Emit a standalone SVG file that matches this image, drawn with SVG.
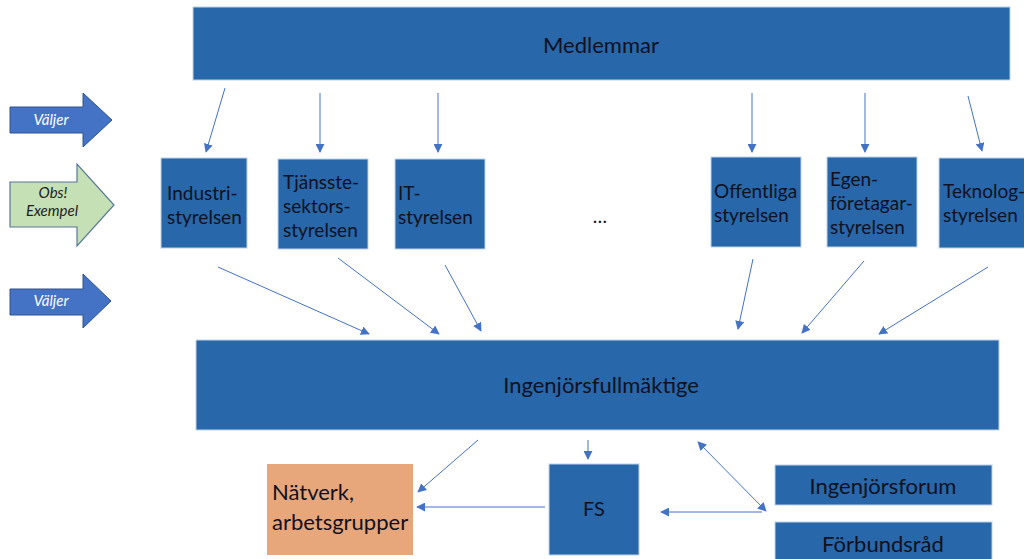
<svg xmlns="http://www.w3.org/2000/svg" width="1024" height="559" viewBox="0 0 1024 559">
<style>
.box{fill:#2767AA;stroke:#BFD3EA;stroke-width:1}
.org{fill:#E8A77B}
.t{font-family:Lato,"Open Sans","Liberation Sans",sans-serif;font-size:19px;fill:#111122}
.tc{text-anchor:middle}
.big{font-size:22px}
.arrow{fill:#4472C4;stroke:#2F528F;stroke-width:1}
.garrow{fill:#C5E0B4;stroke:#56789A;stroke-width:1.2}
.al{font-family:Lato,"Open Sans","Liberation Sans",sans-serif;font-size:15px;font-style:italic;text-anchor:middle}
.con{stroke:#4472C4;stroke-width:1;fill:none;marker-end:url(#ah)}
</style>
<defs>
<marker id="ah" viewBox="0 0 10 10" refX="9" refY="5" markerWidth="9" markerHeight="9" markerUnits="userSpaceOnUse" orient="auto-start-reverse">
<path d="M0,0 L10,5 L0,10 z" fill="#4472C4"/>
</marker>
</defs>
<rect width="1024" height="559" fill="#ffffff"/>

<g id="valjer1">
<path class="arrow" d="M10,107 H83 V93 L112,120 L83,147 V133 H10 z"/>
<text class="al" x="51" y="125" fill="#ffffff">Väljer</text>
</g>
<g id="obs">
<path class="garrow" d="M10,182 H77 V164 L114,205 L77,246 V227 H10 z"/>
<text class="al" x="53" y="198" fill="#222222">Obs!</text>
<text class="al" x="52" y="216" fill="#222222">Exempel</text>
</g>
<g id="valjer2">
<path class="arrow" d="M10,289 H83 V274 L111,301 L83,328 V315 H10 z"/>
<text class="al" x="51" y="306" fill="#ffffff">Väljer</text>
</g>

<g id="medlemmar">
<rect class="box" x="193" y="7" width="817" height="73"/>
<text class="t tc big" x="601" y="53">Medlemmar</text>
</g>

<g id="industri">
<rect class="box" x="161" y="158" width="86" height="90"/>
<text class="t" x="167" y="200">Industri-</text>
<text class="t" x="167" y="224">styrelsen</text>
</g>
<g id="tjanste">
<rect class="box" x="278" y="159" width="90" height="90"/>
<text class="t" x="283" y="189">Tjänsste-</text>
<text class="t" x="283" y="213">sektors-</text>
<text class="t" x="283" y="237">styrelsen</text>
</g>
<g id="it">
<rect class="box" x="395" y="159" width="90" height="90"/>
<text class="t" x="398" y="200">IT-</text>
<text class="t" x="398" y="224">styrelsen</text>
</g>
<g id="dots">
<text class="t tc" x="600" y="223">…</text>
</g>
<g id="offentliga">
<rect class="box" x="711" y="157" width="90" height="90"/>
<text class="t" x="714" y="198">Offentliga</text>
<text class="t" x="714" y="222">styrelsen</text>
</g>
<g id="egen">
<rect class="box" x="827" y="157" width="90" height="90"/>
<text class="t" x="830" y="186">Egen-</text>
<text class="t" x="830" y="210">företagar-</text>
<text class="t" x="830" y="234">styrelsen</text>
</g>
<g id="teknolog">
<rect class="box" x="939" y="158" width="86" height="90"/>
<text class="t" x="943" y="198">Teknolog-</text>
<text class="t" x="943" y="222">styrelsen</text>
</g>

<g id="fullmaktige">
<rect class="box" x="196" y="340" width="803" height="90"/>
<text class="t tc big" x="601" y="393">Ingenjörsfullmäktige</text>
</g>

<g id="natverk">
<rect class="org" x="267" y="464" width="146" height="91"/>
<text class="t" x="272" y="500" style="font-size:22px">Nätverk,</text>
<text class="t" x="272" y="530" style="font-size:22px">arbetsgrupper</text>
</g>
<g id="fs">
<rect class="box" x="549" y="464" width="90" height="91"/>
<text class="t tc" x="594" y="516" style="font-size:20px">FS</text>
</g>
<g id="forum">
<rect class="box" x="775" y="465" width="217" height="40"/>
<text class="t tc big" x="883" y="494">Ingenjörsforum</text>
</g>
<g id="forbundsrad">
<rect class="box" x="775" y="522" width="217" height="40"/>
<text class="t tc big" x="883" y="552">Förbundsråd</text>
</g>

<g id="connectors">
<line class="con" x1="225" y1="88" x2="206" y2="152"/>
<line class="con" x1="320" y1="93" x2="320" y2="152"/>
<line class="con" x1="438" y1="93" x2="438" y2="152"/>
<line class="con" x1="752" y1="93" x2="752" y2="152"/>
<line class="con" x1="865" y1="93" x2="865" y2="152"/>
<line class="con" x1="968" y1="96" x2="982" y2="151"/>
<line class="con" x1="218" y1="267" x2="369" y2="334"/>
<line class="con" x1="338" y1="258" x2="439" y2="334"/>
<line class="con" x1="445" y1="265" x2="481" y2="331"/>
<line class="con" x1="753" y1="259" x2="738" y2="329"/>
<line class="con" x1="864" y1="261" x2="802" y2="333"/>
<line class="con" x1="988" y1="267" x2="879" y2="334"/>
<line class="con" x1="478" y1="440" x2="418" y2="492"/>
<line class="con" x1="588" y1="440" x2="588" y2="459"/>
<line class="con" x1="545" y1="507" x2="417" y2="507"/>
<line class="con" x1="698" y1="442" x2="766" y2="511" style="marker-start:url(#ah)"/>
<line class="con" x1="762" y1="512" x2="661" y2="512"/>
</g>
</svg>
